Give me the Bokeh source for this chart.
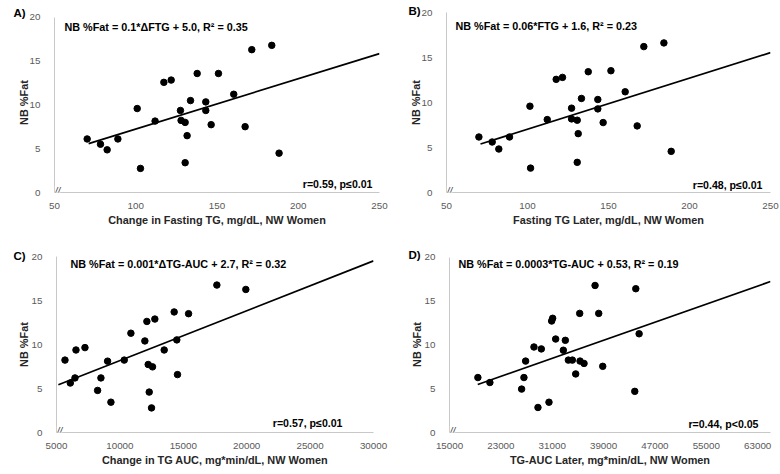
from bokeh.plotting import figure
from bokeh.layouts import column, row
from bokeh.models import Label, FixedTicker, Range1d, BasicTickFormatter
from bokeh.embed import file_html
from bokeh.resources import INLINE

FONT = "Liberation Sans"

# ---------------- data ----------------
y_ticks = [0, 5, 10, 15, 20]

# Panel A: change in fasting TG vs NB %Fat
a_x = [70.1, 78.3, 82.4, 89.0, 100.9, 102.9, 111.9, 117.3, 121.8, 127.5, 127.9, 130.4, 130.4,
       131.6, 133.7, 137.8, 143.1, 143.1, 146.4, 150.9, 160.3, 167.3, 171.4, 183.7, 188.2]
a_y = [6.11, 5.51, 4.87, 6.11, 9.58, 2.75, 8.15, 12.57, 12.83, 9.36, 8.23, 8.00, 3.40,
       6.49, 10.49, 13.58, 10.34, 9.36, 7.74, 13.58, 11.21, 7.51, 16.30, 16.79, 4.49]
a_ticks = [50, 100, 150, 200, 250]
a_fit = [0.0574, 1.50]          # slope, intercept of drawn trend line
a_fit_x = [71, 250]

# Panel B: fasting TG later vs NB %Fat
b_x = [70.0, 78.2, 82.3, 88.9, 101.5, 101.9, 112.2, 117.7, 121.6, 127.2, 127.2, 130.7, 130.7,
       131.3, 133.3, 137.5, 143.4, 143.4, 146.7, 151.5, 160.3, 167.7, 171.8, 184.2, 188.7]
b_y = [6.17, 5.61, 4.83, 6.17, 9.59, 2.71, 8.10, 12.57, 12.79, 9.37, 8.18, 8.03, 3.35,
       6.54, 10.45, 13.42, 10.33, 9.29, 7.77, 13.53, 11.19, 7.40, 16.21, 16.62, 4.57]
b_ticks = [50, 100, 150, 200, 250]
b_fit = [0.0567, 1.36]
b_fit_x = [71, 250]

# Panel C: change in TG AUC vs NB %Fat
c_x = [5669, 6089, 6457, 6536, 7244, 8242, 8504, 9029, 9292, 10342, 10867, 11969, 12127,
       12232, 12311, 12573, 12494, 12757, 13492, 14279, 14489, 14542, 15416, 17647, 19931]
c_y = [8.24, 5.63, 6.21, 9.39, 9.66, 4.79, 6.21, 8.12, 3.45, 8.24, 11.30, 10.42, 12.64,
       7.74, 4.60, 7.47, 2.80, 12.91, 9.39, 13.72, 10.54, 6.59, 13.52, 16.78, 16.28]
c_ticks = [5000, 10000, 15000, 20000, 25000, 30000]
c_fit = [0.000567, 2.52]
c_fit_x = [5150, 30000]

# Panel D: TG-AUC later vs NB %Fat
d_x = [19420, 21292, 26232, 26596, 26856, 28156, 28780, 29300, 30496, 30912, 31068, 31536, 32732,
       33044, 33512, 34136, 34656, 35280, 35332, 35956, 37672, 38244, 38868, 44016, 43860, 44536]
d_y = [6.28, 5.71, 4.96, 6.28, 8.16, 9.77, 2.86, 9.55, 3.46, 12.74, 13.05, 10.68, 9.40,
       10.53, 8.27, 8.27, 6.69, 13.61, 8.16, 7.89, 16.80, 13.61, 7.56, 16.43, 4.70, 11.28]
d_ticks = [15000, 23000, 31000, 39000, 47000, 55000, 63000]
d_fit = [0.000258, 0.48]
d_fit_x = [19400, 65000]

# layout settings (frames of one row share top/bottom borders; small range pads
# place each panel's 0..20 axis where it sits in the original figure)
panels = [
    dict(tag="A)", x=a_x, y=a_y, ticks=a_ticks, xr=(50, 250), yr=(0, 20.54),
         fit=a_fit, fit_x=a_fit_x,
         eq="NB %Fat = 0.1*\u0394FTG + 5.0, R\u00b2 = 0.35", r="r=0.59, p\u22640.01",
         xt="Change in Fasting TG, mg/dL, NW Women",
         border=(12, 11, 45, 54), eq_off=(10, -10), r_off=(-7, 9), tag_off=-41,
         tag_sd=-12, ylab_sd=-3),
    dict(tag="B)", x=b_x, y=b_y, ticks=b_ticks, xr=(50, 250), yr=(0, 20),
         fit=b_fit, fit_x=b_fit_x,
         eq="NB %Fat = 0.06*FTG + 1.6, R\u00b2 = 0.23", r="r=0.48, p\u22640.01",
         xt="Fasting TG Later, mg/dL, NW Women",
         border=(12, 10, 45, 56), eq_off=(9, -13), r_off=(-8, 8), tag_off=-38,
         tag_sd=-8, ylab_sd=-3),
    dict(tag="C)", x=c_x, y=c_y, ticks=c_ticks, xr=(5000, 30000), yr=(0, 20.03),
         fit=c_fit, fit_x=c_fit_x,
         eq="NB %Fat = 0.001*\u0394TG-AUC + 2.7, R\u00b2 = 0.32", r="r=0.57, p\u22640.01",
         xt="Change in TG AUC, mg*min/dL, NW Women",
         border=(19, 17, 42, 56), eq_off=(14, -7), r_off=(-31, 10), tag_off=-43,
         tag_sd=-10, ylab_sd=-1),
    dict(tag="D)", x=d_x, y=d_y, ticks=d_ticks, xr=(15000, 65000), yr=(0, 20.11),
         fit=d_fit, fit_x=d_fit_x,
         eq="NB %Fat = 0.0003*TG-AUC + 0.53, R\u00b2 = 0.19", r="r=0.44, p<0.05",
         xt="TG-AUC Later, mg*min/dL, NW Women",
         border=(19, 10, 42, 59), eq_off=(9, -7), r_off=(-12, 9), tag_off=-41,
         tag_sd=-9, ylab_sd=-1),
]


def make_panel(cfg):
    top, right, bottom, left = cfg["border"]
    x0, x1 = cfg["xr"]
    p = figure(width=390, height=237, output_backend="svg", toolbar_location=None,
               x_range=Range1d(x0, x1), y_range=Range1d(*cfg["yr"]),
               min_border_top=top, min_border_right=right,
               min_border_bottom=bottom, min_border_left=left)
    p.outline_line_color = None
    p.xgrid.visible = False
    p.ygrid.visible = False
    p.background_fill_color = "white"

    # panel tag ("A)" etc.) as the figure title, pulled down beside the "20" tick
    p.title.text = cfg["tag"]
    p.title.align = "left"
    p.title.offset = cfg["tag_off"]
    p.title.standoff = cfg["tag_sd"]
    p.title.vertical_align = "bottom"
    p.title.text_font = FONT
    p.title.text_font_size = "11.5px"
    p.title.text_font_style = "bold"
    p.title.text_color = "black"

    for ax in (p.xaxis[0], p.yaxis[0]):
        ax.axis_line_color = "#c8c8c8"
        ax.axis_line_width = 1
        ax.major_tick_line_color = None
        ax.minor_tick_line_color = None
        ax.major_label_text_font = FONT
        ax.major_label_text_font_size = "9.8px"
        ax.major_label_text_color = "#595959"
        ax.axis_label_text_font = FONT
        ax.axis_label_text_font_size = "10.9px"
        ax.axis_label_text_font_style = "bold"
        ax.axis_label_text_color = "#262626"
        ax.formatter = BasicTickFormatter(use_scientific=False)

    p.xaxis[0].ticker = FixedTicker(ticks=cfg["ticks"])
    p.yaxis[0].ticker = FixedTicker(ticks=y_ticks)
    p.yaxis[0].bounds = (0, 20)
    p.xaxis[0].major_label_standoff = 4
    p.yaxis[0].major_label_standoff = 8
    p.xaxis[0].axis_label = cfg["xt"]
    p.yaxis[0].axis_label = "NB %Fat"
    p.xaxis[0].axis_label_standoff = 2
    p.yaxis[0].axis_label_standoff = cfg["ylab_sd"]

    p.scatter(cfg["x"], cfg["y"], size=6.5, color="black")

    s, b = cfg["fit"]
    fx = cfg["fit_x"]
    p.line(fx, [s * v + b for v in fx], line_color="black", line_width=1.7)

    p.add_layout(Label(x=x0, y=20, x_offset=cfg["eq_off"][0], y_offset=cfg["eq_off"][1],
                       text=cfg["eq"], text_font=FONT, text_font_size="10.8px",
                       text_font_style="bold", text_color="black",
                       text_align="left", text_baseline="middle"))
    p.add_layout(Label(x=x1, y=0, x_offset=cfg["r_off"][0], y_offset=cfg["r_off"][1],
                       text=cfg["r"], text_font=FONT, text_font_size="10.6px",
                       text_font_style="bold", text_color="black",
                       text_align="right", text_baseline="middle"))
    p.add_layout(Label(x=x0, y=0, x_offset=3, y_offset=1,
                       text="//", text_font=FONT, text_font_size="10px",
                       text_font_style="italic", text_color="#404040",
                       background_fill_color="white",
                       text_align="center", text_baseline="middle"))
    return p


figs = [make_panel(c) for c in panels]
layout = column(row(figs[0], figs[1]), row(figs[2], figs[3]))

open("out.html", "w").write(file_html(layout, INLINE))
